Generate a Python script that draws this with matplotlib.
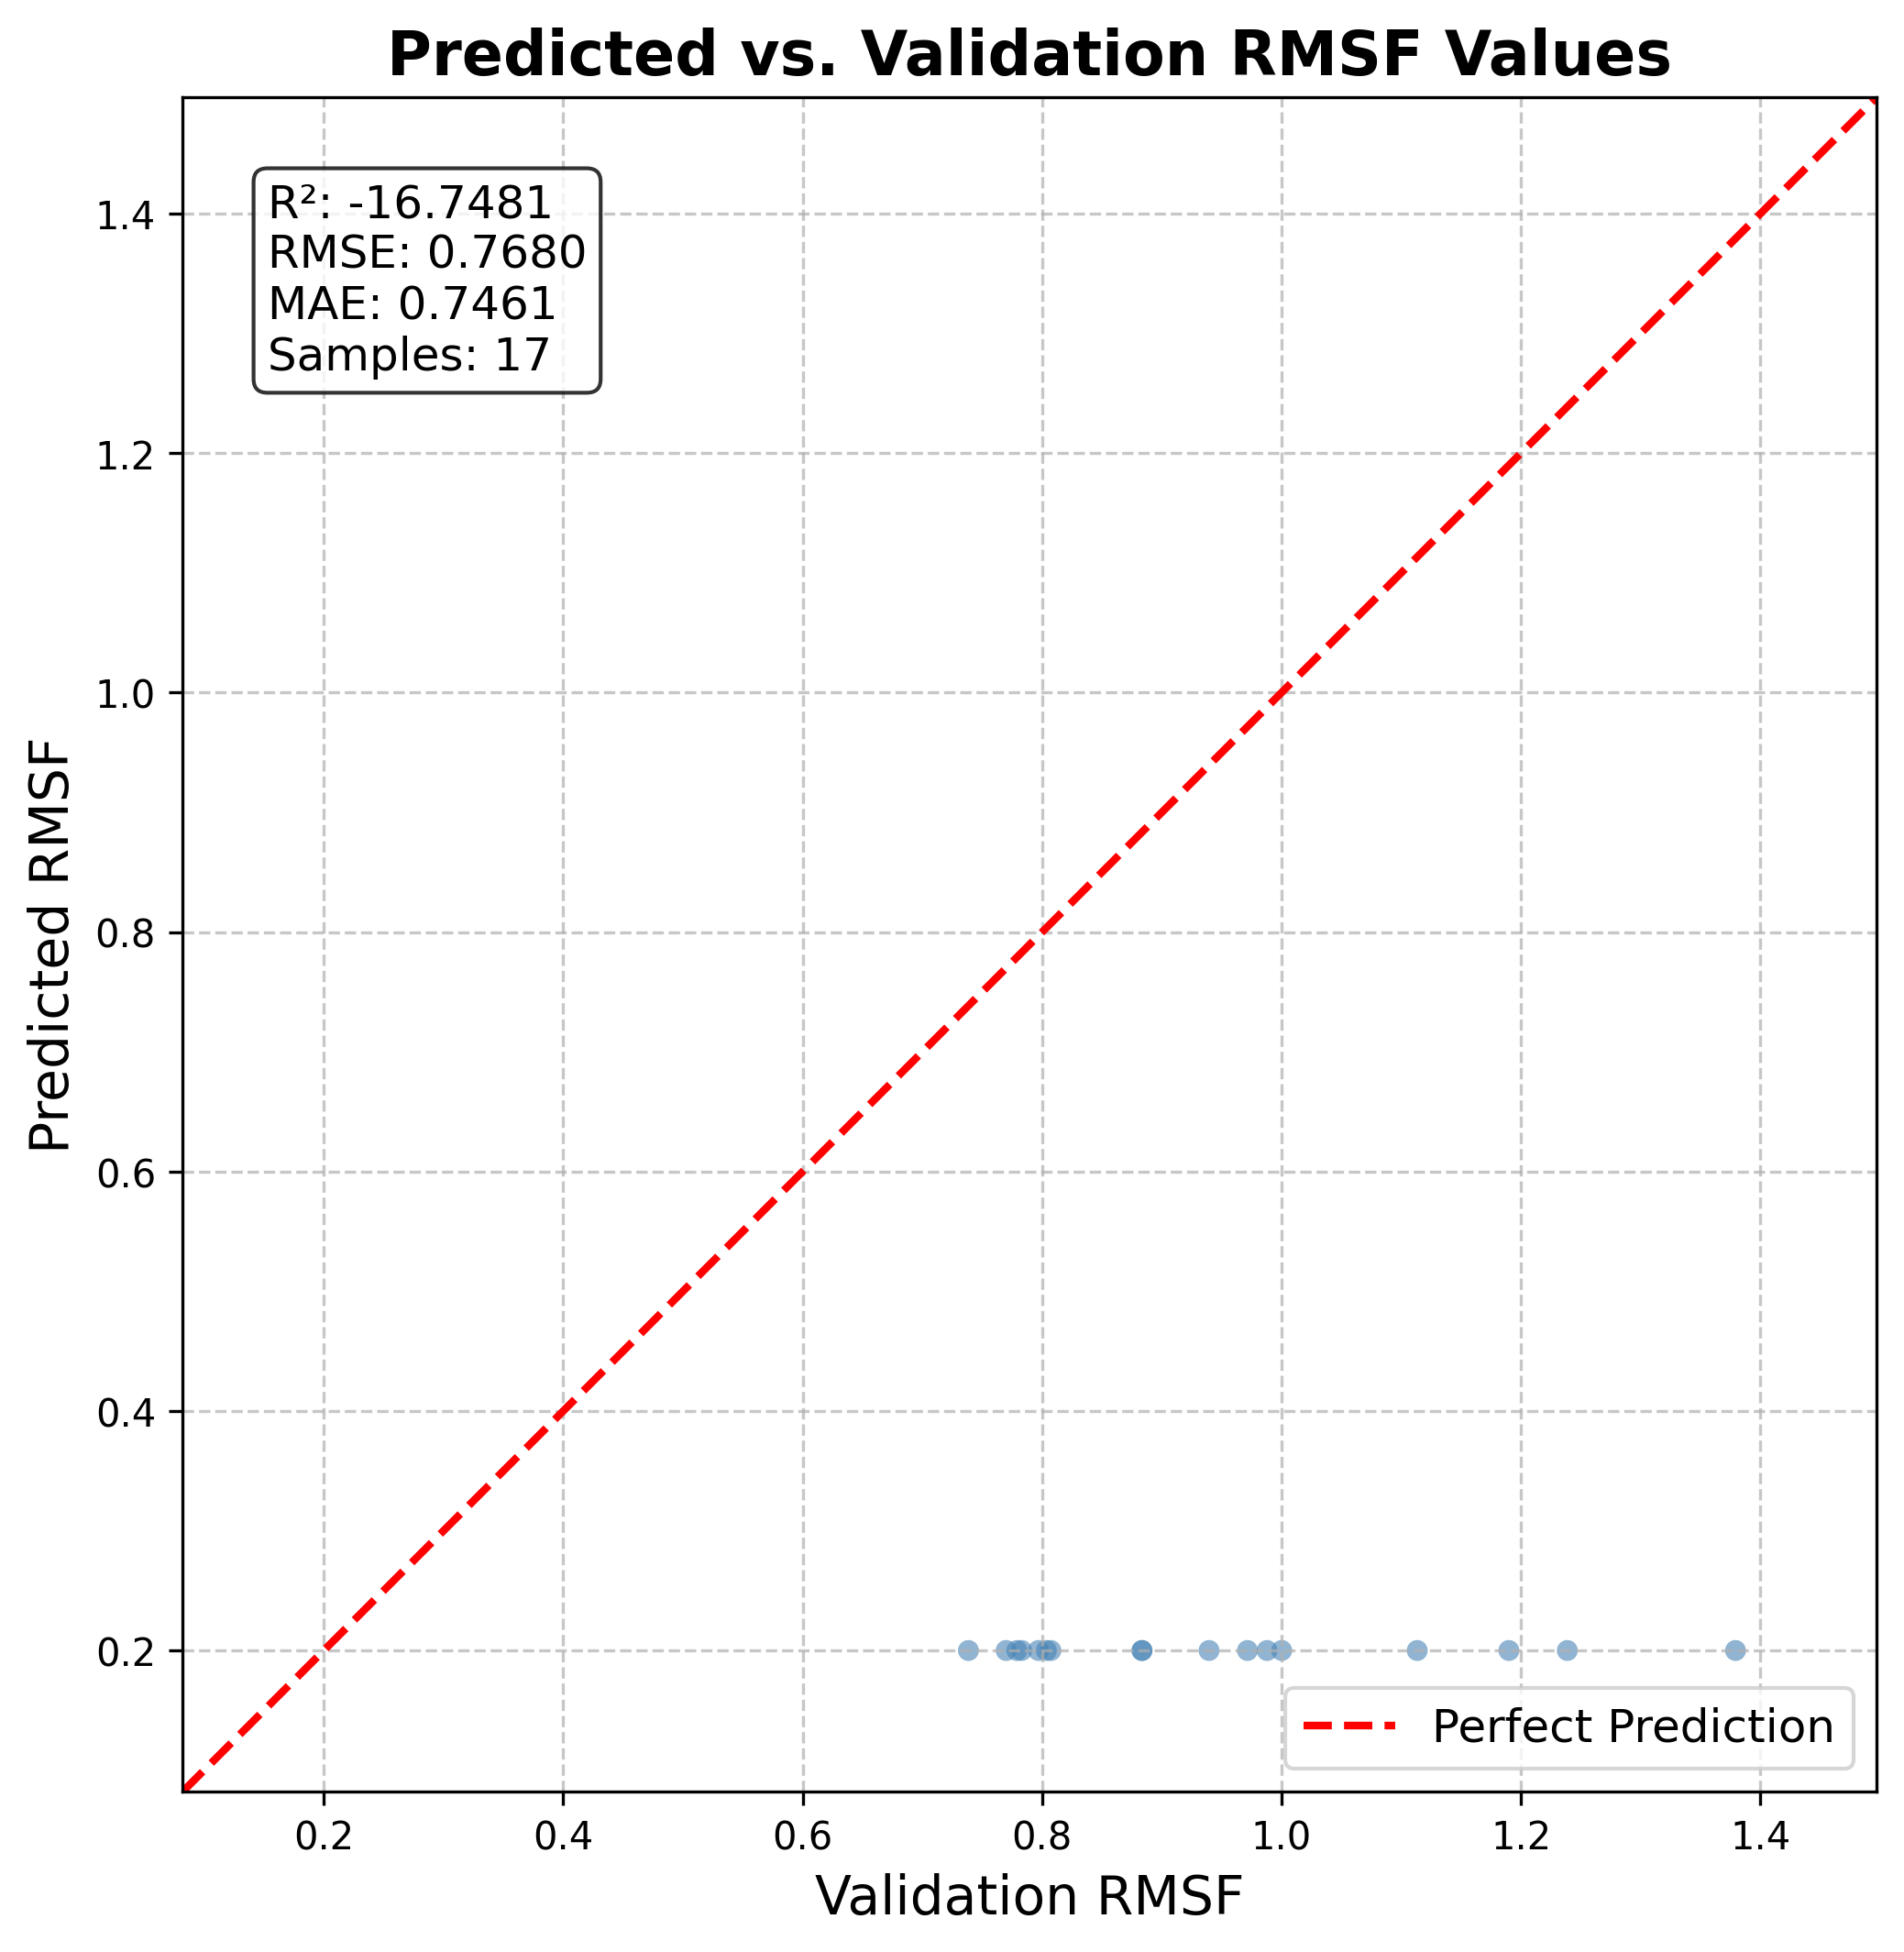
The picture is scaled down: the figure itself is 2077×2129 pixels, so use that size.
import matplotlib
matplotlib.use("Agg")
import matplotlib.pyplot as plt
import numpy as np

# validation RMSF (x) vs predicted RMSF (y)
validation = [0.7385, 0.770, 0.779, 0.783, 0.797, 0.8036, 0.8074, 0.8835, 0.8835,
              0.9395, 0.9716, 0.988, 1.0002, 1.1134, 1.190, 1.2388, 1.3793]
predicted = [0.2] * 17

r2 = -16.7481
rmse = 0.7680
mae = 0.7461

fig, ax = plt.subplots(figsize=(8, 8))
ax.scatter(validation, predicted, alpha=0.6, s=30, color='steelblue', edgecolors='none')

lo = min(min(validation), min(predicted))
hi = max(max(validation), max(predicted))
pad = 0.1 * (hi - lo)
lo, hi = lo - pad, hi + pad
ax.plot([lo, hi], [lo, hi], 'r--', lw=2, label='Perfect Prediction')
ax.set_xlim(lo, hi)
ax.set_ylim(lo, hi)
ax.set_aspect('equal')

ax.set_xlabel('Validation RMSF', fontsize=14)
ax.set_ylabel('Predicted RMSF', fontsize=14)
ax.set_title('Predicted vs. Validation RMSF Values', fontsize=16, fontweight='bold')
ax.grid(True, linestyle='--', alpha=0.7)

stats = f'R²: {r2:.4f}\nRMSE: {rmse:.4f}\nMAE: {mae:.4f}\nSamples: {len(validation)}'
ax.text(0.05, 0.95, stats, transform=ax.transAxes, fontsize=12, va='top',
        bbox=dict(boxstyle='round', facecolor='white', alpha=0.8))
ax.legend(loc='lower right', fontsize=12)

plt.savefig('out.png', dpi=300, bbox_inches='tight')
